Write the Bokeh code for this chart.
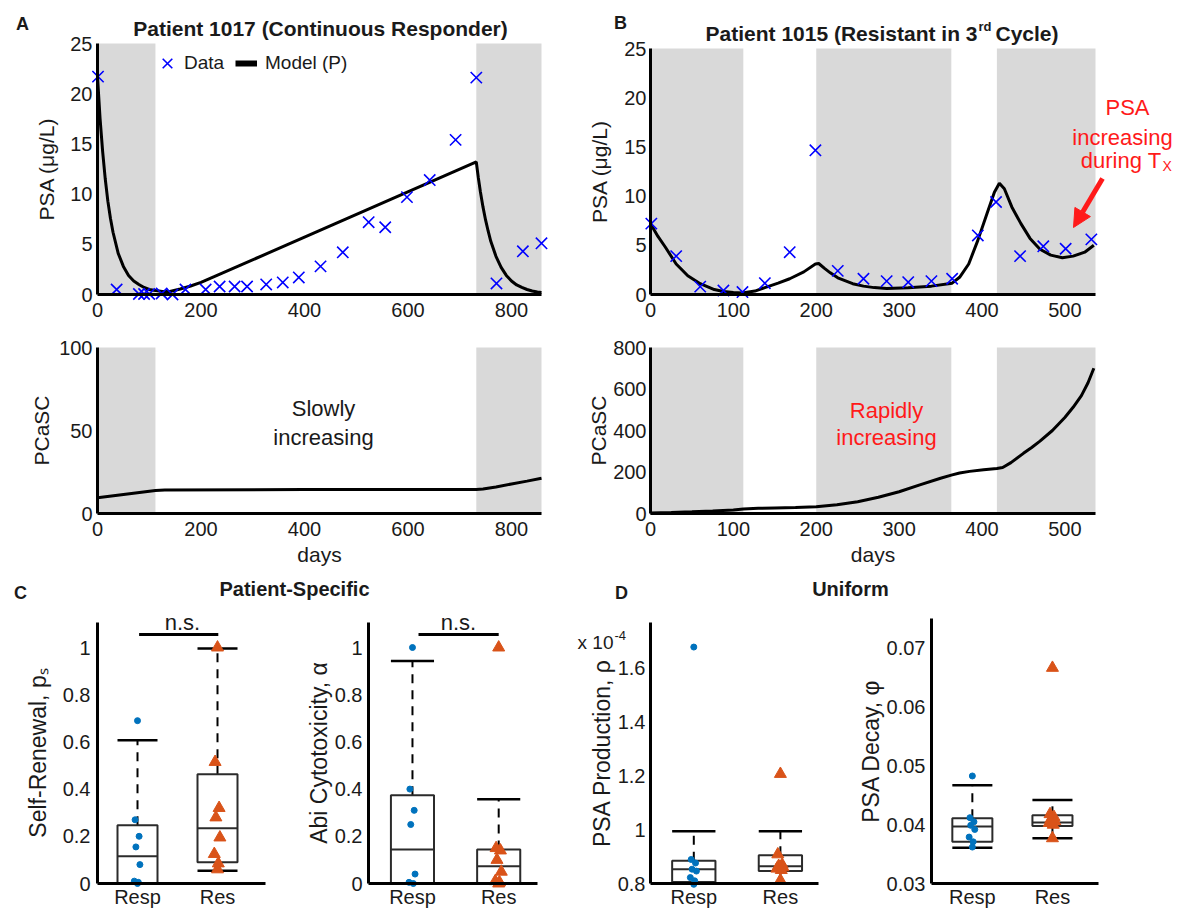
from bokeh.plotting import figure
from bokeh.layouts import row, column
from bokeh.models import (Label, Arrow, NormalHead, Legend, LegendItem, FixedTicker,
                          Range1d, PrintfTickFormatter)
from bokeh.embed import file_html
from bokeh.resources import INLINE

FONT = "Liberation Sans"
BLUE_X = "#0000ff"
DOT = "#0072bd"
TRI = "#d95319"
GRAY = "#d9d9d9"
INK = "#1a1a1a"
RED = "#ff1a1a"

# ---------------- Panel A: Patient 1017 ----------------
a_treat_start = [0, 732]
a_treat_end = [112, 858]
a_data_day = [1, 37, 80, 90, 100, 124, 145, 170, 209, 236, 265, 289, 326, 358, 389, 431,
              474, 524, 556, 598, 642, 692, 732, 771, 822, 858]
a_data_psa = [21.7, 0.5, 0.05, 0.05, 0.05, 0.1, 0.0, 0.5, 0.5, 0.8, 0.8, 0.8, 1.0, 1.2, 1.7,
              2.8, 4.2, 7.2, 6.7, 9.7, 11.4, 15.4, 21.6, 1.1, 4.3, 5.1]
a_model_day = [0, 5, 10, 15, 20, 25, 30, 40, 50, 60, 70, 80, 90, 100, 112, 125, 140, 160, 180,
               200, 732, 736, 740, 745, 750, 755, 760, 770, 780, 790, 800, 810, 820, 830, 840,
               850, 858]
a_model_psa = [21.7, 17.5, 14.2, 11.5, 9.3, 7.6, 6.2, 4.1, 2.8, 1.9, 1.35, 1.0, 0.7, 0.5, 0.4,
               0.3, 0.3, 0.55, 0.85, 1.2, 13.2, 11.6, 10.2, 8.7, 7.4, 6.3, 5.3, 3.8, 2.7, 1.9,
               1.35, 0.95, 0.7, 0.5, 0.35, 0.25, 0.2]
a_stem_day = [0, 112, 130, 400, 732, 745, 770, 800, 830, 858]
a_stem = [9.5, 13.9, 14.2, 14.4, 14.5, 14.8, 16.0, 17.8, 19.5, 21.2]

# ---------------- Panel B: Patient 1015 ----------------
b_treat_start = [0, 200, 418]
b_treat_end = [112, 363, 537]
b_data_day = [1, 31, 60, 88, 111, 138, 168, 199, 226, 257, 285, 311, 339, 364, 395, 417, 446,
              474, 501, 532]
b_data_psa = [7.2, 3.9, 0.8, 0.4, 0.25, 1.15, 4.3, 14.65, 2.4, 1.6, 1.36, 1.25, 1.36, 1.6, 6.0,
              9.4, 3.9, 4.9, 4.65, 5.6]
b_model_day = [0, 9, 18, 31, 45, 60, 77, 88, 100, 111, 126, 138, 154, 168, 185, 199, 203, 210,
               217, 226, 244, 257, 270, 285, 311, 339, 364, 373, 384, 395, 406, 415, 421, 427,
               436, 447, 458, 470, 483, 497, 510, 524, 535]
b_model_psa = [7.2, 5.9, 4.8, 3.1, 1.9, 1.1, 0.5, 0.3, 0.2, 0.15, 0.35, 0.7, 1.15, 1.6, 2.3,
               3.1, 3.15, 2.65, 2.2, 1.7, 1.1, 0.85, 0.7, 0.6, 0.68, 0.85, 1.15, 1.75, 3.1, 5.5,
               8.2, 10.4, 11.3, 10.75, 8.9, 7.2, 5.7, 4.6, 4.0, 3.73, 3.9, 4.3, 5.0]
b_stem_day = [0, 25, 50, 75, 100, 112, 130, 150, 175, 200, 225, 250, 275, 300, 325, 350, 363,
              373, 385, 402, 418, 425, 435, 450, 460, 470, 485, 500, 510, 520, 528, 535]
b_stem = [3, 5, 8, 12, 17, 22, 25, 27, 29, 32, 42, 57, 78, 105, 138, 170, 185, 195, 203, 211,
          217, 222, 245, 290, 318, 349, 400, 463, 512, 568, 630, 700]

# ---------------- Panels C / D: box plots ----------------
groups = ["Resp", "Res"]
group_pos = [1, 2]

ps_resp = [0.69, 0.27, 0.20, 0.155, 0.08, 0.01, 0.005, 0.0]
ps_res = [1.0, 0.515, 0.32, 0.28, 0.195, 0.125, 0.085, 0.06]
ps_q1, ps_med, ps_q3 = [0.0, 0.09], [0.115, 0.234], [0.247, 0.463]
ps_lo, ps_hi = [0.0, 0.054], [0.607, 0.996]

al_resp = [1.0, 0.40, 0.31, 0.25, 0.04, 0.005, 0.0]
al_res = [1.0, 0.15, 0.14, 0.10, 0.05, 0.01, 0.005, 0.0]
al_q1, al_med, al_q3 = [0.0, 0.0], [0.144, 0.073], [0.374, 0.144]
al_lo, al_hi = [0.0, 0.0], [0.943, 0.357]

rho_resp = [1.676, 0.889, 0.876, 0.853, 0.846, 0.822, 0.81, 0.797]
rho_res = [1.206, 0.908, 0.87, 0.865, 0.86, 0.855, 0.85, 0.812]
rho_q1, rho_med, rho_q3 = [0.806, 0.846], [0.853, 0.864], [0.884, 0.905]
rho_lo, rho_hi = [0.8, 0.8], [0.994, 0.994]

phi_resp = [0.0483, 0.0412, 0.0405, 0.0399, 0.0392, 0.0379, 0.0371, 0.0362]
phi_res = [0.0667, 0.0418, 0.0413, 0.0409, 0.0406, 0.0403, 0.0400, 0.0377]
phi_q1, phi_med, phi_q3 = [0.0371, 0.0398], [0.0397, 0.0404], [0.0411, 0.0416]
phi_lo, phi_hi = [0.0361, 0.0377], [0.0467, 0.0442]

jitter = [0.0, -0.03, 0.02, -0.02, 0.03, -0.04, 0.01, 0.0]
BOX_W = 0.5


def make_fig(ox, oy, W, H, box, xr, yr):
    """Figure whose frame fills the whole canvas; both axes are fixed at the
    data origin and bounded to the data extents."""
    l, r, t, b = box
    fl, fr, ft, fb = ox, ox + W, oy, oy + H
    sx = (r - l) / (xr[1] - xr[0])
    sy = (b - t) / (yr[1] - yr[0])
    X0 = xr[0] - (l - fl) / sx
    X1 = xr[1] + (fr - r) / sx
    Y0 = yr[0] - (fb - b) / sy
    Y1 = yr[1] + (t - ft) / sy
    p = figure(width=W, height=H, x_range=Range1d(X0, X1), y_range=Range1d(Y0, Y1),
               output_backend="svg", toolbar_location=None, title=None,
               min_border_left=0, min_border_right=0, min_border_top=0, min_border_bottom=0)
    p.outline_line_color = None
    p.background_fill_color = "white"
    p.border_fill_color = "white"
    p.grid.visible = False
    p.xaxis.bounds = xr
    p.yaxis.bounds = yr
    p.yaxis.fixed_location = xr[0]
    p.xaxis.fixed_location = yr[0]
    g = dict(l=fl, r=fr, t=ft, b=fb, x0=X0, x1=X1, y0=Y0, y1=Y1)
    return p, g


def fx(g, px):
    return g["x0"] + (px - g["l"]) * (g["x1"] - g["x0"]) / (g["r"] - g["l"])


def fy(g, py):
    return g["y0"] + (g["b"] - py) * (g["y1"] - g["y0"]) / (g["b"] - g["t"])


def style_axes(p, tick_px, lab_px, ytick_so, ylab_so, xtick_so=3, xlab_so=3):
    for ax in p.axis:
        ax.axis_line_width = 3
        ax.axis_line_color = "black"
        ax.major_tick_line_color = None
        ax.minor_tick_line_color = None
        ax.major_tick_out = 0
        ax.major_tick_in = 0
        ax.minor_tick_out = 0
        ax.minor_tick_in = 0
        ax.major_label_text_font = FONT
        ax.major_label_text_font_size = f"{tick_px}px"
        ax.major_label_text_color = INK
        ax.axis_label_text_font = FONT
        ax.axis_label_text_font_size = f"{lab_px}px"
        ax.axis_label_text_font_style = "normal"
        ax.axis_label_text_color = INK
    p.yaxis.major_label_standoff = ytick_so
    p.yaxis.axis_label_standoff = ylab_so
    p.xaxis.major_label_standoff = xtick_so
    p.xaxis.axis_label_standoff = xlab_so


def label(p, x, y, text, size, color=INK, bold=False, align="center", baseline="middle"):
    p.add_layout(Label(x=x, y=y, text=text, text_font=FONT, text_font_size=f"{size}px",
                       text_color=color, text_font_style="bold" if bold else "normal",
                       text_align=align, text_baseline=baseline))


def legend(p, item, loc, gw, gh, standoff):
    p.add_layout(Legend(items=[item], location=loc, orientation="horizontal",
                        border_line_color=None, background_fill_alpha=0,
                        label_text_font=FONT, label_text_font_size="19px",
                        label_text_color=INK, glyph_width=gw, glyph_height=gh,
                        label_standoff=standoff, padding=0, margin=0))


# ====================== Row 1 ======================
A1, gA1 = make_fig(0, 0, 580, 324, (97, 541, 43, 294), (0, 858), (0, 25))
A1.quad(left=a_treat_start, right=a_treat_end, bottom=0, top=25, fill_color=GRAY, line_color=None)
r_model = A1.line(a_model_day, a_model_psa, line_color="black", line_width=3)
r_data = A1.scatter(a_data_day, a_data_psa, marker="x", size=16, line_color=BLUE_X, line_width=1.6)
r_model_key = A1.line([float("nan")], [float("nan")], line_color="black", line_width=6)
A1.xaxis.ticker = FixedTicker(ticks=[0, 200, 400, 600, 800])
A1.yaxis.ticker = FixedTicker(ticks=[0, 5, 10, 15, 20, 25])
A1.yaxis.axis_label = "PSA (μg/L)"
style_axes(A1, 20, 21, 5, 9, 8)
legend(A1, LegendItem(label="Data", renderers=[r_data]), (150, 324 - 80), 34, 34, 0)
legend(A1, LegendItem(label="Model (P)", renderers=[r_model_key]), (235, 324 - 74), 22, 22, 8)
label(A1, fx(gA1, 22), fy(gA1, 23), "A", 18, bold=True)
label(A1, fx(gA1, 320), fy(gA1, 28), "Patient 1017 (Continuous Responder)", 21, bold=True)

B1, gB1 = make_fig(580, 0, 598, 324, (650, 1095, 48, 294), (0, 537), (0, 25))
B1.quad(left=b_treat_start, right=b_treat_end, bottom=0, top=25, fill_color=GRAY, line_color=None)
B1.line(b_model_day, b_model_psa, line_color="black", line_width=3)
B1.scatter(b_data_day, b_data_psa, marker="x", size=16, line_color=BLUE_X, line_width=1.6)
B1.xaxis.ticker = FixedTicker(ticks=[0, 100, 200, 300, 400, 500])
B1.yaxis.ticker = FixedTicker(ticks=[0, 5, 10, 15, 20, 25])
B1.yaxis.axis_label = "PSA (μg/L)"
style_axes(B1, 20, 21, 4, 10, 8)
label(B1, fx(gB1, 620), fy(gB1, 22), "B", 18, bold=True)
label(B1, fx(gB1, 977), fy(gB1, 33), "Patient 1015 (Resistant in 3", 21, bold=True, align="right")
label(B1, fx(gB1, 978), fy(gB1, 26), "rd", 13, bold=True, align="left")
label(B1, fx(gB1, 995), fy(gB1, 33), "Cycle)", 21, bold=True, align="left")
label(B1, fx(gB1, 1127), fy(gB1, 107), "PSA", 22, color=RED)
label(B1, fx(gB1, 1122), fy(gB1, 137), "increasing", 22, color=RED)
label(B1, fx(gB1, 1161), fy(gB1, 160), "during T", 22, color=RED, align="right")
label(B1, fx(gB1, 1162), fy(gB1, 165), "X", 14, color=RED, align="left")
B1.add_layout(Arrow(end=NormalHead(size=18, fill_color=RED, line_color=RED),
                    x_start=fx(gB1, 1102), y_start=fy(gB1, 178),
                    x_end=fx(gB1, 1073), y_end=fy(gB1, 227),
                    line_color=RED, line_width=5))

# ====================== Row 2 ======================
A2, gA2 = make_fig(0, 324, 580, 251, (97, 541, 347, 513), (0, 858), (0, 100))
A2.quad(left=a_treat_start, right=a_treat_end, bottom=0, top=100, fill_color=GRAY, line_color=None)
A2.line(a_stem_day, a_stem, line_color="black", line_width=3)
A2.xaxis.ticker = FixedTicker(ticks=[0, 200, 400, 600, 800])
A2.yaxis.ticker = FixedTicker(ticks=[0, 50, 100])
A2.yaxis.axis_label = "PCaSC"
A2.xaxis.axis_label = "days"
style_axes(A2, 20, 21, 5, 3, 8, 4)
label(A2, fx(gA2, 323), fy(gA2, 408), "Slowly", 22)
label(A2, fx(gA2, 323), fy(gA2, 437), "increasing", 22)

B2, gB2 = make_fig(580, 324, 598, 251, (650, 1095, 347, 513), (0, 537), (0, 800))
B2.quad(left=b_treat_start, right=b_treat_end, bottom=0, top=800, fill_color=GRAY, line_color=None)
B2.line(b_stem_day, b_stem, line_color="black", line_width=3)
B2.xaxis.ticker = FixedTicker(ticks=[0, 100, 200, 300, 400, 500])
B2.yaxis.ticker = FixedTicker(ticks=[0, 200, 400, 600, 800])
B2.yaxis.axis_label = "PCaSC"
B2.xaxis.axis_label = "days"
style_axes(B2, 20, 21, 4, 0, 8, 4)
label(B2, fx(gB2, 886), fy(gB2, 410), "Rapidly", 22, color=RED)
label(B2, fx(gB2, 886), fy(gB2, 437), "increasing", 22, color=RED)

# ====================== Header strip for C / D ======================
H = figure(width=1178, height=30, x_range=Range1d(0, 1178), y_range=Range1d(605, 575),
           output_backend="svg", toolbar_location=None, title=None,
           x_axis_location=None, y_axis_location=None,
           min_border_left=0, min_border_right=0, min_border_top=0, min_border_bottom=0)
H.outline_line_color = None
H.grid.visible = False
label(H, 20, 592, "C", 18, bold=True)
label(H, 294, 588, "Patient-Specific", 20, bold=True)
label(H, 621, 592, "D", 18, bold=True)
label(H, 850, 588, "Uniform", 20, bold=True)


# ====================== Row 3: box plots ======================
def box_panel(p, q1, med, q3, lo, hi, resp, res):
    half = BOX_W / 2
    left = [c - half for c in group_pos]
    right = [c + half for c in group_pos]
    p.segment(x0=group_pos, y0=q3, x1=group_pos, y1=hi, line_color="black", line_width=2,
              line_dash="9 7")
    p.segment(x0=group_pos, y0=q1, x1=group_pos, y1=lo, line_color="black", line_width=2,
              line_dash="9 7")
    p.vbar(x=group_pos, width=BOX_W, bottom=q1, top=q3, fill_color=None, line_color="#2b2b2b",
           line_width=2)
    p.segment(x0=left, y0=med, x1=right, y1=med, line_color="#2b2b2b", line_width=2)
    p.segment(x0=left, y0=hi, x1=right, y1=hi, line_color="black", line_width=2.5)
    p.segment(x0=left, y0=lo, x1=right, y1=lo, line_color="black", line_width=2.5)
    p.scatter([group_pos[0] + jitter[i] for i in range(len(resp))], resp, marker="circle",
              size=6, fill_color=DOT, line_color=DOT)
    p.scatter([group_pos[1] + jitter[i] for i in range(len(res))], res, marker="triangle",
              size=12, fill_color=TRI, line_color=TRI)
    p.xaxis.ticker = FixedTicker(ticks=group_pos)
    p.xaxis.major_label_overrides = {group_pos[0]: groups[0], group_pos[1]: groups[1]}


def ns_bar(p, x0, x1, y, ty, tx):
    p.segment(x0=[x0], y0=[y], x1=[x1], y1=[y], line_color="black", line_width=3)
    label(p, tx, ty, "n.s.", 22)


C1, gC1 = make_fig(0, 605, 300, 306, (97, 265, 622, 883), (0.5, 2.6), (0, 1.106))
box_panel(C1, ps_q1, ps_med, ps_q3, ps_lo, ps_hi, ps_resp, ps_res)
C1.yaxis.ticker = FixedTicker(ticks=[0, 0.2, 0.4, 0.6, 0.8, 1])
C1.yaxis.formatter = PrintfTickFormatter(format="%g")
C1.yaxis.axis_label = "Self-Renewal, pₛ"
style_axes(C1, 20, 23, 7, 9, 2)
ns_bar(C1, 1.02, 2.01, 1.055, fy(gC1, 622), fx(gC1, 182))

C2, gC2 = make_fig(300, 605, 275, 306, (368, 537, 622, 883), (0.49, 2.45), (0, 1.106))
box_panel(C2, al_q1, al_med, al_q3, al_lo, al_hi, al_resp, al_res)
C2.yaxis.ticker = FixedTicker(ticks=[0, 0.2, 0.4, 0.6, 0.8, 1])
C2.yaxis.formatter = PrintfTickFormatter(format="%g")
C2.yaxis.axis_label = "Abi Cytotoxicity, α"
style_axes(C2, 20, 23, 6, 0, 2)
ns_bar(C2, 1.07, 2.0, 1.055, fy(gC2, 622), fx(gC2, 458))

D1, gD1 = make_fig(575, 605, 277, 306, (650, 818, 622, 883), (0.5, 2.44), (0.8, 1.767))
box_panel(D1, rho_q1, rho_med, rho_q3, rho_lo, rho_hi, rho_resp, rho_res)
D1.yaxis.ticker = FixedTicker(ticks=[0.8, 1.0, 1.2, 1.4, 1.6])
D1.yaxis.formatter = PrintfTickFormatter(format="%g")
D1.yaxis.axis_label = "PSA Production, ρ"
style_axes(D1, 20, 23, 5, 0, 2)
label(D1, fx(gD1, 613), fy(gD1, 642), "x 10", 19, align="right")
label(D1, fx(gD1, 614), fy(gD1, 635), "-4", 13, align="left")

D2, gD2 = make_fig(852, 605, 326, 306, (931, 1098, 618, 883), (0.49, 2.575), (0.03, 0.0751))
box_panel(D2, phi_q1, phi_med, phi_q3, phi_lo, phi_hi, phi_resp, phi_res)
D2.yaxis.ticker = FixedTicker(ticks=[0.03, 0.04, 0.05, 0.06, 0.07])
D2.yaxis.formatter = PrintfTickFormatter(format="%g")
D2.yaxis.axis_label = "PSA Decay, φ"
style_axes(D2, 20, 23, 6, 0, 2)

layout = column(row(A1, B1), row(A2, B2), H, row(C1, C2, D1, D2))
open("out.html", "w").write(file_html(layout, INLINE))
